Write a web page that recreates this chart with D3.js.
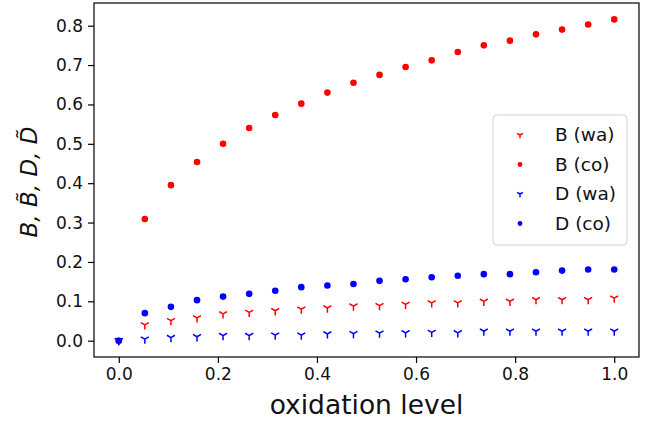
<!DOCTYPE html>
<html>
<head>
<meta charset="utf-8">
<script src="https://cdn.jsdelivr.net/npm/d3@7"></script>
<style>
  body { margin: 0; background: #fff; }
  text { font-family: "DejaVu Sans", sans-serif; fill: #111; }
</style>
</head>
<body>
<div id="chart"></div>
<script>
// oxidation level (20 evenly spaced samples)
var oxidation = [0, 0.0526, 0.1053, 0.1579, 0.2105, 0.2632, 0.3158, 0.3684, 0.4211, 0.4737,
    0.5263, 0.5789, 0.6316, 0.6842, 0.7368, 0.7895, 0.8421, 0.8947, 0.9474, 1.0];

var bWa = [0, 0.040, 0.051, 0.058, 0.068, 0.072, 0.076, 0.080, 0.083, 0.088,
    0.089, 0.092, 0.096, 0.096, 0.100, 0.100, 0.104, 0.104, 0.104, 0.108];
var bCo = [0, 0.309, 0.395, 0.454, 0.500, 0.540, 0.573, 0.602, 0.630, 0.655,
    0.675, 0.695, 0.712, 0.733, 0.750, 0.762, 0.778, 0.790, 0.803, 0.816];
var dWa = [0, 0.004, 0.008, 0.010, 0.013, 0.013, 0.014, 0.014, 0.017, 0.018,
    0.019, 0.020, 0.021, 0.020, 0.024, 0.024, 0.024, 0.024, 0.024, 0.024];
var dCo = [0, 0.070, 0.086, 0.103, 0.112, 0.119, 0.127, 0.136, 0.140, 0.144,
    0.152, 0.156, 0.161, 0.165, 0.169, 0.169, 0.174, 0.178, 0.181, 0.181];

var xTicks = [0, 0.2, 0.4, 0.6, 0.8, 1.0];
var yTicks = [0, 0.1, 0.2, 0.3, 0.4, 0.5, 0.6, 0.7, 0.8];

var series = [
  {name: "B (wa)", values: bWa, color: "#ff0000", marker: "tri"},
  {name: "B (co)", values: bCo, color: "#ff0000", marker: "dot"},
  {name: "D (wa)", values: dWa, color: "#0000ff", marker: "tri"},
  {name: "D (co)", values: dCo, color: "#0000ff", marker: "dot"}
];

var width = 647, height = 425;
var box = {left: 94, right: 639, top: 3, bottom: 357};

var svg = d3.select("#chart").append("svg")
    .attr("width", width)
    .attr("height", height);

var xscale = d3.scaleLinear().domain([-0.05, 1.05]).range([box.left, box.right]);
var yscale = d3.scaleLinear().domain([-0.0414, 0.8576]).range([box.bottom, box.top]);

// tri_down marker: three spokes from the centre
var triPath = function(r) {
  var s = r * Math.sin(Math.PI / 3), c = r * 0.5;
  return "M0,0L0," + r + "M0,0L" + (-s) + "," + (-c) + "M0,0L" + s + "," + (-c);
};

var drawMarker = function(sel, marker, color, size) {
  if (marker == "dot") {
    sel.append("circle").attr("r", size).attr("fill", color);
  } else {
    sel.append("path").attr("d", triPath(size * 1.4))
      .attr("stroke", color).attr("stroke-width", 1.5).attr("fill", "none");
  }
};

var xAxis = svg.append("g")
    .attr("transform", "translate(0," + box.bottom + ")")
    .call(d3.axisBottom(xscale).tickValues(xTicks).tickFormat(d3.format(".1f"))
      .tickSize(6).tickPadding(5));
var yAxis = svg.append("g")
    .attr("transform", "translate(" + box.left + ",0)")
    .call(d3.axisLeft(yscale).tickValues(yTicks).tickFormat(d3.format(".1f"))
      .tickSize(6).tickPadding(5));

[xAxis, yAxis].forEach(function(ax) {
  ax.select(".domain").remove();
  ax.selectAll(".tick line").attr("stroke", "#000").attr("stroke-width", 1.2);
  ax.selectAll(".tick text")
    .attr("font-family", "DejaVu Sans")
    .attr("font-size", "17px")
    .attr("fill", "#111");
});

series.forEach(function(s) {
  svg.append("g").selectAll("g")
    .data(s.values)
    .enter()
    .append("g")
    .attr("transform", function(d, i) {
      return "translate(" + xscale(oxidation[i]) + "," + yscale(d) + ")";
    })
    .each(function() {
      drawMarker(d3.select(this), s.marker, s.color, 3.3);
    });
});

// frame
svg.append("rect")
    .attr("x", box.left).attr("y", box.top)
    .attr("width", box.right - box.left).attr("height", box.bottom - box.top)
    .attr("fill", "none").attr("stroke", "#000").attr("stroke-width", 1.2);

// legend
var legend = svg.append("g");
legend.append("rect")
    .attr("x", 493).attr("y", 115).attr("width", 134).attr("height", 130)
    .attr("rx", 4)
    .attr("fill", "#fff").attr("fill-opacity", 0.8)
    .attr("stroke", "#d0d0d0").attr("stroke-width", 1);
series.forEach(function(s, i) {
  var row = legend.append("g").attr("transform", "translate(520," + (135 + i * 29.5) + ")");
  drawMarker(row, s.marker, s.color, 2.4);
  row.append("text")
    .attr("x", 35).attr("dy", "0.35em")
    .attr("font-size", "18.5px")
    .text(s.name);
});

// axis labels
svg.append("text")
    .attr("x", (box.left + box.right) / 2).attr("y", 414)
    .attr("text-anchor", "middle")
    .attr("font-size", "26.5px")
    .text("oxidation level");

svg.append("text")
    .attr("transform", "translate(37,182) rotate(-90)")
    .attr("text-anchor", "middle")
    .attr("font-size", "23px")
    .attr("font-style", "italic")
    .text("B, B\u0303, D, D\u0303");
</script>
</body>
</html>
